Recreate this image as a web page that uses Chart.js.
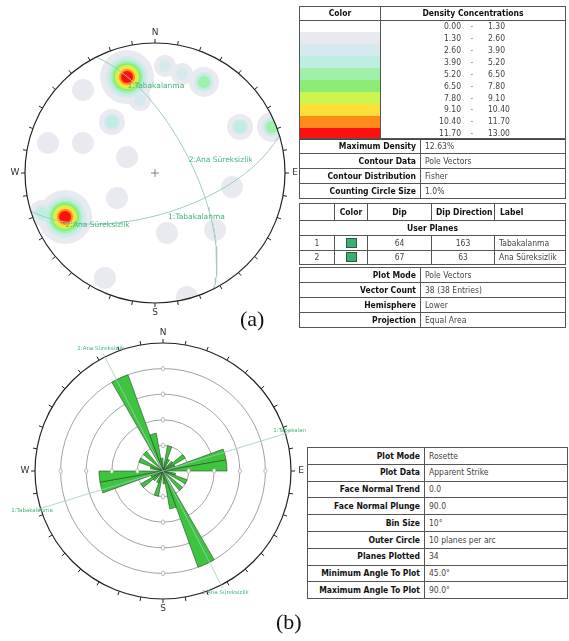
<!DOCTYPE html>
<html>
<head>
<meta charset="utf-8">
<title>Stereonet / Rozet</title>
<script src="https://cdn.jsdelivr.net/npm/chart.js@4.4.1/dist/chart.umd.min.js"></script>
<style>
  body{margin:0;width:569px;height:641px;background:#fff;position:relative;overflow:hidden;
       font-family:"DejaVu Sans Condensed","DejaVu Sans",Tahoma,sans-serif;}
  canvas{position:absolute;}
  #stereo{left:0;top:0;}
  #rose{left:0;top:320px;}
  table{position:absolute;border-collapse:collapse;table-layout:fixed;font-size:8.5px;color:#444;border:1px solid #444;}
  td{border:1px solid #555;padding:0 4px;white-space:nowrap;overflow:hidden;line-height:1;}
  td.k{font-weight:bold;text-align:right;color:#111;}
  td.h{font-weight:bold;text-align:center;color:#111;}
  td.c{border-top:none;border-bottom:none;padding:0;}
  td.ctr{text-align:center;}
  .n1{display:inline-block;width:80px;text-align:right;}
  .dash{display:inline-block;width:22px;text-align:center;color:#777;}
  .n2{display:inline-block;padding-left:5px;}
  .sq{display:inline-block;width:9px;height:8px;background:#3aaf6f;border:1px solid #2a5a40;vertical-align:middle;}
  .cap{position:absolute;font-family:"Liberation Serif","DejaVu Serif",serif;font-size:22px;color:#111;}
</style>
</head>
<body>
<canvas id="stereo" width="300" height="320"></canvas>
<canvas id="rose" width="306" height="321"></canvas>

<table id="legendTbl" style="left:299px;top:6px;width:266px"></table>
<table id="statTbl" style="left:299px;top:138px;width:266px"></table>
<table id="planeTbl" style="left:299px;top:203px;width:266px"></table>
<table id="plotTbl" style="left:299px;top:267px;width:266px"></table>
<table id="roseTbl" style="left:307px;top:447px;width:260px"></table>

<div class="cap" style="left:240px;top:306px">(a)</div>
<div class="cap" style="left:276px;top:609px">(b)</div>

<script>
// ===== DENSITY LEGEND =====
const densityEdges = [0.00, 1.30, 2.60, 3.90, 5.20, 6.50, 7.80, 9.10, 10.40, 11.70, 13.00];
const densityColors = ["#ffffff","#e9eaef","#d5e9ef","#bdeee0","#9ff0a9","#8cec73","#cdf550","#ffdf3a","#ff8a1a","#ff1010"];

// ===== DENSITY PEAKS (equal area net, unit radius, x = east, y = north) =====
const peakX = [-0.215, -0.692, 0.377, -0.331, 0.654, 0.900, -0.115, 0.077, 0.208, -0.869,
               -0.823, -0.554, -0.215, -0.554, -0.292, 0.592, 0.092, 0.462, -0.385, 0.246];
const peakY = [0.738, -0.338, 0.700, 0.392, 0.354, 0.354, 0.562, 0.823, 0.762, -0.308,
               0.231, 0.231, 0.123, 0.638, -0.192, -0.108, -0.462, -0.438, -0.808, -0.954];
const peakLevel = [9, 9, 4, 3, 3, 4, 2, 2, 2, 3,
                   1, 1, 1, 1, 1, 1, 1, 1, 1, 1];

// ===== USER PLANES =====
const planeNo = [1, 2];
const planeDip = [64, 67];
const planeDipDir = [163, 63];
const planeLabel = ["Tabakalanma", "Ana Süreksizlik"];

// ===== ROSETTE (10 degree bins, apparent strike) =====
const binStart = [0,10,20,30,40,50,60,70,80,90,100,110,120,130,140,150,160,170,
                  180,190,200,210,220,230,240,250,260,270,280,290,300,310,320,330,340,350];
const binCount = [0,2,1,0,1,2,1,5,5,0,1,2,0,2,0,8,3,1,
                  0,2,1,0,1,2,1,5,5,0,1,2,0,2,0,8,3,1];
const ringTicks = [2, 4, 6, 8];

// ===== INFO TABLES =====
const statKeys = ["Maximum Density","Contour Data","Contour Distribution","Counting Circle Size"];
const statVals = ["12.63%","Pole Vectors","Fisher","1.0%"];
const plotKeys = ["Plot Mode","Vector Count","Hemisphere","Projection"];
const plotVals = ["Pole Vectors","38 (38 Entries)","Lower","Equal Area"];
const roseKeys = ["Plot Mode","Plot Data","Face Normal Trend","Face Normal Plunge","Bin Size",
                  "Outer Circle","Planes Plotted","Minimum Angle To Plot","Maximum Angle To Plot"];
const roseVals = ["Rosette","Apparent Strike","0.0","90.0","10°","10 planes per arc","34","45.0°","90.0°"];

const LABEL_GREEN = "#45b47a";
const TRACE = "#9dcbc0";
const RAD = Math.PI / 180;

// ===== TABLES =====
function kvTable(id, keys, vals, w1, w2, rh){
  const t = document.getElementById(id);
  t.innerHTML = `<colgroup><col style="width:${w1}px"><col style="width:${w2}px"></colgroup>` +
    keys.map((k,i)=>`<tr style="height:${rh}px"><td class="k">${k}</td><td>${vals[i]}</td></tr>`).join("");
}

function legendTable(){
  const t = document.getElementById("legendTbl");
  let html = `<colgroup><col style="width:81px"><col style="width:185px"></colgroup>` +
    `<tr style="height:14px"><td class="h">Color</td><td class="h">Density Concentrations</td></tr>`;
  densityColors.forEach((c,i)=>{
    html += `<tr style="height:11.9px"><td class="c" style="background:${c}"></td>` +
      `<td class="c"><span class="n1">${densityEdges[i].toFixed(2)}</span><span class="dash">-</span>` +
      `<span class="n2">${densityEdges[i+1].toFixed(2)}</span></td></tr>`;
  });
  t.innerHTML = html;
}

function planeTable(){
  const t = document.getElementById("planeTbl");
  let html = `<colgroup><col style="width:35px"><col style="width:33px"><col style="width:64px">` +
    `<col style="width:63px"><col style="width:71px"></colgroup>` +
    `<tr style="height:17px"><td></td><td class="h">Color</td><td class="h">Dip</td>` +
    `<td class="h">Dip Direction</td><td class="h" style="text-align:left;padding-left:5px">Label</td></tr>` +
    `<tr style="height:15px"><td class="h" colspan="5">User Planes</td></tr>`;
  planeNo.forEach((n,i)=>{
    html += `<tr style="height:14.5px"><td class="ctr">${n}</td><td class="ctr"><span class="sq"></span></td>` +
      `<td class="ctr">${planeDip[i]}</td><td class="ctr">${planeDipDir[i]}</td><td>${planeLabel[i]}</td></tr>`;
  });
  t.innerHTML = html;
}

legendTable();
kvTable("statTbl", statKeys, statVals, 121, 145, 15);
planeTable();
kvTable("plotTbl", plotKeys, plotVals, 121, 145, 15);
kvTable("roseTbl", roseKeys, roseVals, 117, 143, 16.8);

// ===== PROJECTION (lower hemisphere, equal area) =====
function project(v){
  const h = Math.hypot(v[0], v[1]);
  const r = Math.sqrt(Math.max(0, 1 + v[2]));
  return h < 1e-9 ? {x:0, y:0} : {x: r * v[0] / h, y: r * v[1] / h};
}

function greatCircle(dip, dipDir){
  const d = dip * RAD, a = dipDir * RAD;
  const s = [Math.sin(a - Math.PI/2), Math.cos(a - Math.PI/2), 0];
  const dv = [Math.sin(a) * Math.cos(d), Math.cos(a) * Math.cos(d), -Math.sin(d)];
  const pts = [];
  for(let t = 0; t <= 180; t += 2){
    const c = Math.cos(t * RAD), sn = Math.sin(t * RAD);
    pts.push(project([c*s[0] + sn*dv[0], c*s[1] + sn*dv[1], c*s[2] + sn*dv[2]]));
  }
  return pts;
}

function pole(dip, dipDir){
  const tr = (dipDir + 180) * RAD, pl = (90 - dip) * RAD;
  return project([Math.sin(tr) * Math.cos(pl), Math.cos(tr) * Math.cos(pl), -Math.sin(pl)]);
}

// contour ring size for a level inside a peak
const RING = [6, 8, 10, 12, 14, 16, 18.5, 21, 24];
function ringRadius(peak, level){
  if(level === 1) return Math.max(11, RING[peak - 1] + 3);
  return RING[peak - level];
}

// ===== STEREONET =====
const stereoDeco = {
  id: "stereoDeco",
  beforeDatasetsDraw(chart){
    const {ctx, scales:{x, y}} = chart;
    const cx = x.getPixelForValue(0), cy = y.getPixelForValue(0);
    const R = x.getPixelForValue(1) - cx;
    ctx.save();
    ctx.beginPath();
    ctx.arc(cx, cy, R, 0, Math.PI * 2);
    ctx.clip();
  },
  afterDatasetsDraw(chart){
    const {ctx, scales:{x, y}} = chart;
    ctx.restore();
    const cx = x.getPixelForValue(0), cy = y.getPixelForValue(0);
    const R = x.getPixelForValue(1) - cx;

    ctx.save();
    ctx.strokeStyle = "#222";
    ctx.lineWidth = 1.2;
    ctx.beginPath();
    ctx.arc(cx, cy, R, 0, Math.PI * 2);
    ctx.stroke();
    ctx.lineWidth = 1;
    ctx.beginPath();
    for(let a = 0; a < 360; a += 10){
      const s = Math.sin(a * RAD), c = Math.cos(a * RAD);
      ctx.moveTo(cx + R * s, cy - R * c);
      ctx.lineTo(cx + (R + 4) * s, cy - (R + 4) * c);
    }
    ctx.stroke();

    ctx.fillStyle = "#333";
    ctx.font = "9px 'DejaVu Sans'";
    ctx.textAlign = "center";
    ctx.textBaseline = "middle";
    [["N",0],["E",90],["S",180],["W",270]].forEach(([t,a])=>{
      ctx.fillText(t, cx + (R + 10) * Math.sin(a * RAD), cy - (R + 10) * Math.cos(a * RAD));
    });

    // centre cross
    ctx.strokeStyle = "#666";
    ctx.lineWidth = 0.8;
    ctx.beginPath();
    ctx.moveTo(cx - 4, cy); ctx.lineTo(cx + 4, cy);
    ctx.moveTo(cx, cy - 4); ctx.lineTo(cx, cy + 4);
    ctx.stroke();

    // plane labels
    ctx.fillStyle = LABEL_GREEN;
    ctx.font = "7.5px 'DejaVu Sans'";
    ctx.textAlign = "left";
    planeNo.forEach((n,i)=>{
      const p = pole(planeDip[i], planeDipDir[i]);
      ctx.fillText(n + ":" + planeLabel[i], x.getPixelForValue(p.x) + 1, y.getPixelForValue(p.y) + 6);
      const g = greatCircle(planeDip[i], planeDipDir[i]);
      const m = g[Math.floor(g.length / 2)];
      ctx.fillText(n + ":" + planeLabel[i], x.getPixelForValue(m.x) + 1, y.getPixelForValue(m.y) + 4);
    });
    ctx.restore();
  }
};

const levelSets = [];
for(let k = 1; k < densityColors.length; k++){
  const pts = [];
  peakX.forEach((px, i)=>{
    if(peakLevel[i] >= k) pts.push({x: px, y: peakY[i], p: peakLevel[i]});
  });
  levelSets.push({
    label: "Level " + k,
    data: pts,
    backgroundColor: densityColors[k],
    borderWidth: 0,
    pointRadius: c => ringRadius(c.raw.p, k),
    pointHoverRadius: c => ringRadius(c.raw.p, k),
    order: 20 - k
  });
}

const circleSets = planeDip.map((dip, i)=>({
  label: planeLabel[i],
  data: greatCircle(dip, planeDipDir[i]),
  showLine: true,
  pointRadius: 0,
  borderColor: TRACE,
  borderWidth: 1,
  fill: false,
  order: 1
}));

new Chart(document.getElementById("stereo"), {
  type: "scatter",
  data: { datasets: [...levelSets, ...circleSets] },
  options: {
    responsive: false,
    animation: false,
    layout: { autoPadding: false, padding: { left: 25, top: 43, right: 15, bottom: 17 } },
    plugins: { legend: { display: false }, tooltip: { enabled: false } },
    scales: {
      x: { type: "linear", min: -1, max: 1, display: false },
      y: { type: "linear", min: -1, max: 1, display: false }
    }
  },
  plugins: [stereoDeco]
});

// ===== ROSETTE =====
const roseDeco = {
  id: "roseDeco",
  afterDatasetsDraw(chart){
    const {ctx} = chart;
    const r = chart.scales.r;
    const cx = r.xCenter, cy = r.yCenter;
    const R = r.getDistanceFromCenterForValue(10);
    const pos = (az, d) => [cx + d * Math.sin(az * RAD), cy - d * Math.cos(az * RAD)];

    ctx.save();
    // ring markers on the axes
    ctx.strokeStyle = "#aaa";
    ctx.fillStyle = "#fff";
    ctx.lineWidth = 0.8;
    ringTicks.forEach(v=>{
      const d = r.getDistanceFromCenterForValue(v);
      [0, 90, 180, 270].forEach(az=>{
        const [px, py] = pos(az, d);
        ctx.beginPath();
        ctx.ellipse(px, py, 1.6, 2.3, 0, 0, Math.PI * 2);
        ctx.fill();
        ctx.stroke();
      });
    });

    // strike traces of the user planes
    ctx.strokeStyle = TRACE;
    ctx.lineWidth = 0.8;
    ctx.fillStyle = LABEL_GREEN;
    ctx.font = "5.5px 'DejaVu Sans'";
    ctx.textAlign = "center";
    ctx.textBaseline = "middle";
    planeNo.forEach((n,i)=>{
      const strike = (planeDipDir[i] + 270) % 360;
      const [x1, y1] = pos(strike, R * 1.03);
      const [x2, y2] = pos(strike + 180, R * 1.03);
      ctx.beginPath();
      ctx.moveTo(x1, y1); ctx.lineTo(x2, y2);
      ctx.stroke();
      [strike, strike + 180].forEach(az=>{
        const [lx, ly] = pos(az, R * 1.07);
        ctx.fillText(n + ":" + planeLabel[i], lx, ly);
      });
    });

    // outer ticks and compass letters
    ctx.strokeStyle = "#222";
    ctx.lineWidth = 1;
    ctx.beginPath();
    for(let a = 0; a < 360; a += 10){
      const [ax, ay] = pos(a, R);
      const [bx, by] = pos(a, R + 4);
      ctx.moveTo(ax, ay); ctx.lineTo(bx, by);
    }
    ctx.stroke();
    ctx.fillStyle = "#333";
    ctx.font = "9px 'DejaVu Sans'";
    [["N",0],["E",90],["S",180],["W",270]].forEach(([t,a])=>{
      const [lx, ly] = pos(a, R + 10);
      ctx.fillText(t, lx, ly);
    });
    ctx.restore();
  }
};

new Chart(document.getElementById("rose"), {
  type: "polarArea",
  data: {
    labels: binStart.map(b => b + "°"),
    datasets: [{
      data: binCount,
      backgroundColor: "#3ec43e",
      borderColor: "#234d23",
      borderWidth: 0.6
    }]
  },
  options: {
    responsive: false,
    animation: false,
    layout: { padding: { left: 35, top: 23, right: 15, bottom: 42 } },
    plugins: { legend: { display: false }, tooltip: { enabled: false } },
    scales: {
      r: {
        min: 0,
        max: 10,
        startAngle: 0,
        ticks: { display: false, stepSize: 2 },
        angleLines: { display: false },
        pointLabels: { display: false },
        grid: {
          color: c => c.tick.value === 10 ? "#222" : "#8a8a8a",
          lineWidth: c => c.tick.value === 10 ? 1.2 : 0.8
        }
      }
    }
  },
  plugins: [roseDeco]
});
</script>
</body>
</html>
